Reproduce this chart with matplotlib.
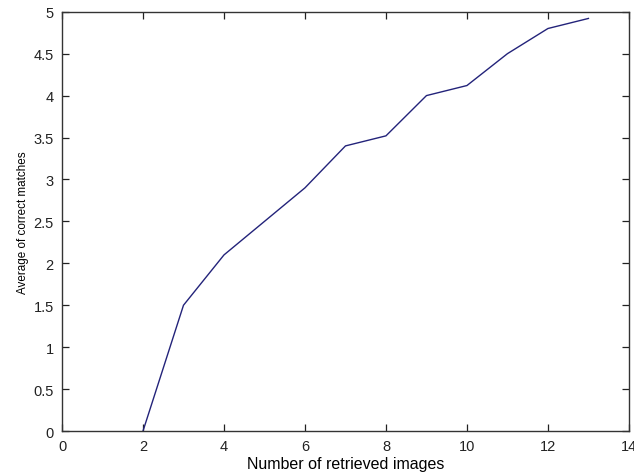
import matplotlib.pyplot as plt

# Retrieved images vs average correct matches
num_retrieved = [2, 3, 4, 5, 6, 7, 8, 9, 10, 11, 12, 13]
avg_correct = [0, 1.5, 2.1, 2.5, 2.9, 3.4, 3.52, 4.0, 4.12, 4.5, 4.8, 4.92]

x_ticks = [0, 2, 4, 6, 8, 10, 12, 14]
y_ticks = [0, 0.5, 1, 1.5, 2, 2.5, 3, 3.5, 4, 4.5, 5]
y_tick_labels = ['0', '0.5', '1', '1.5', '2', '2.5', '3', '3.5', '4', '4.5', '5']

plt.rcParams['font.family'] = ['Liberation Sans', 'DejaVu Sans']

fig = plt.figure(figsize=(6.34, 4.77), dpi=100)
ax = fig.add_axes([0.0978, 0.0943, 0.8942, 0.879])

ax.plot(num_retrieved, avg_correct, color='#23237a', linewidth=1.0)

ax.set_xlim(0, 14)
ax.set_ylim(0, 5)
ax.set_xticks(x_ticks)
ax.set_yticks(y_ticks)
ax.set_yticklabels(y_tick_labels)
ax.tick_params(direction='in', length=5, width=0.9, top=True, right=True,
               labelsize=10.5, colors='#222222')
ax.tick_params(axis='x', pad=6)
ax.tick_params(axis='y', pad=6)
for s in ax.spines.values():
    s.set_linewidth(1.0)
    s.set_color('#333333')

ax.set_xlabel('Number of retrieved images', fontsize=11.5, labelpad=2)
ax.set_ylabel('Average of correct matches', fontsize=8.4, labelpad=3)

fig.savefig('out.png', dpi=100)
